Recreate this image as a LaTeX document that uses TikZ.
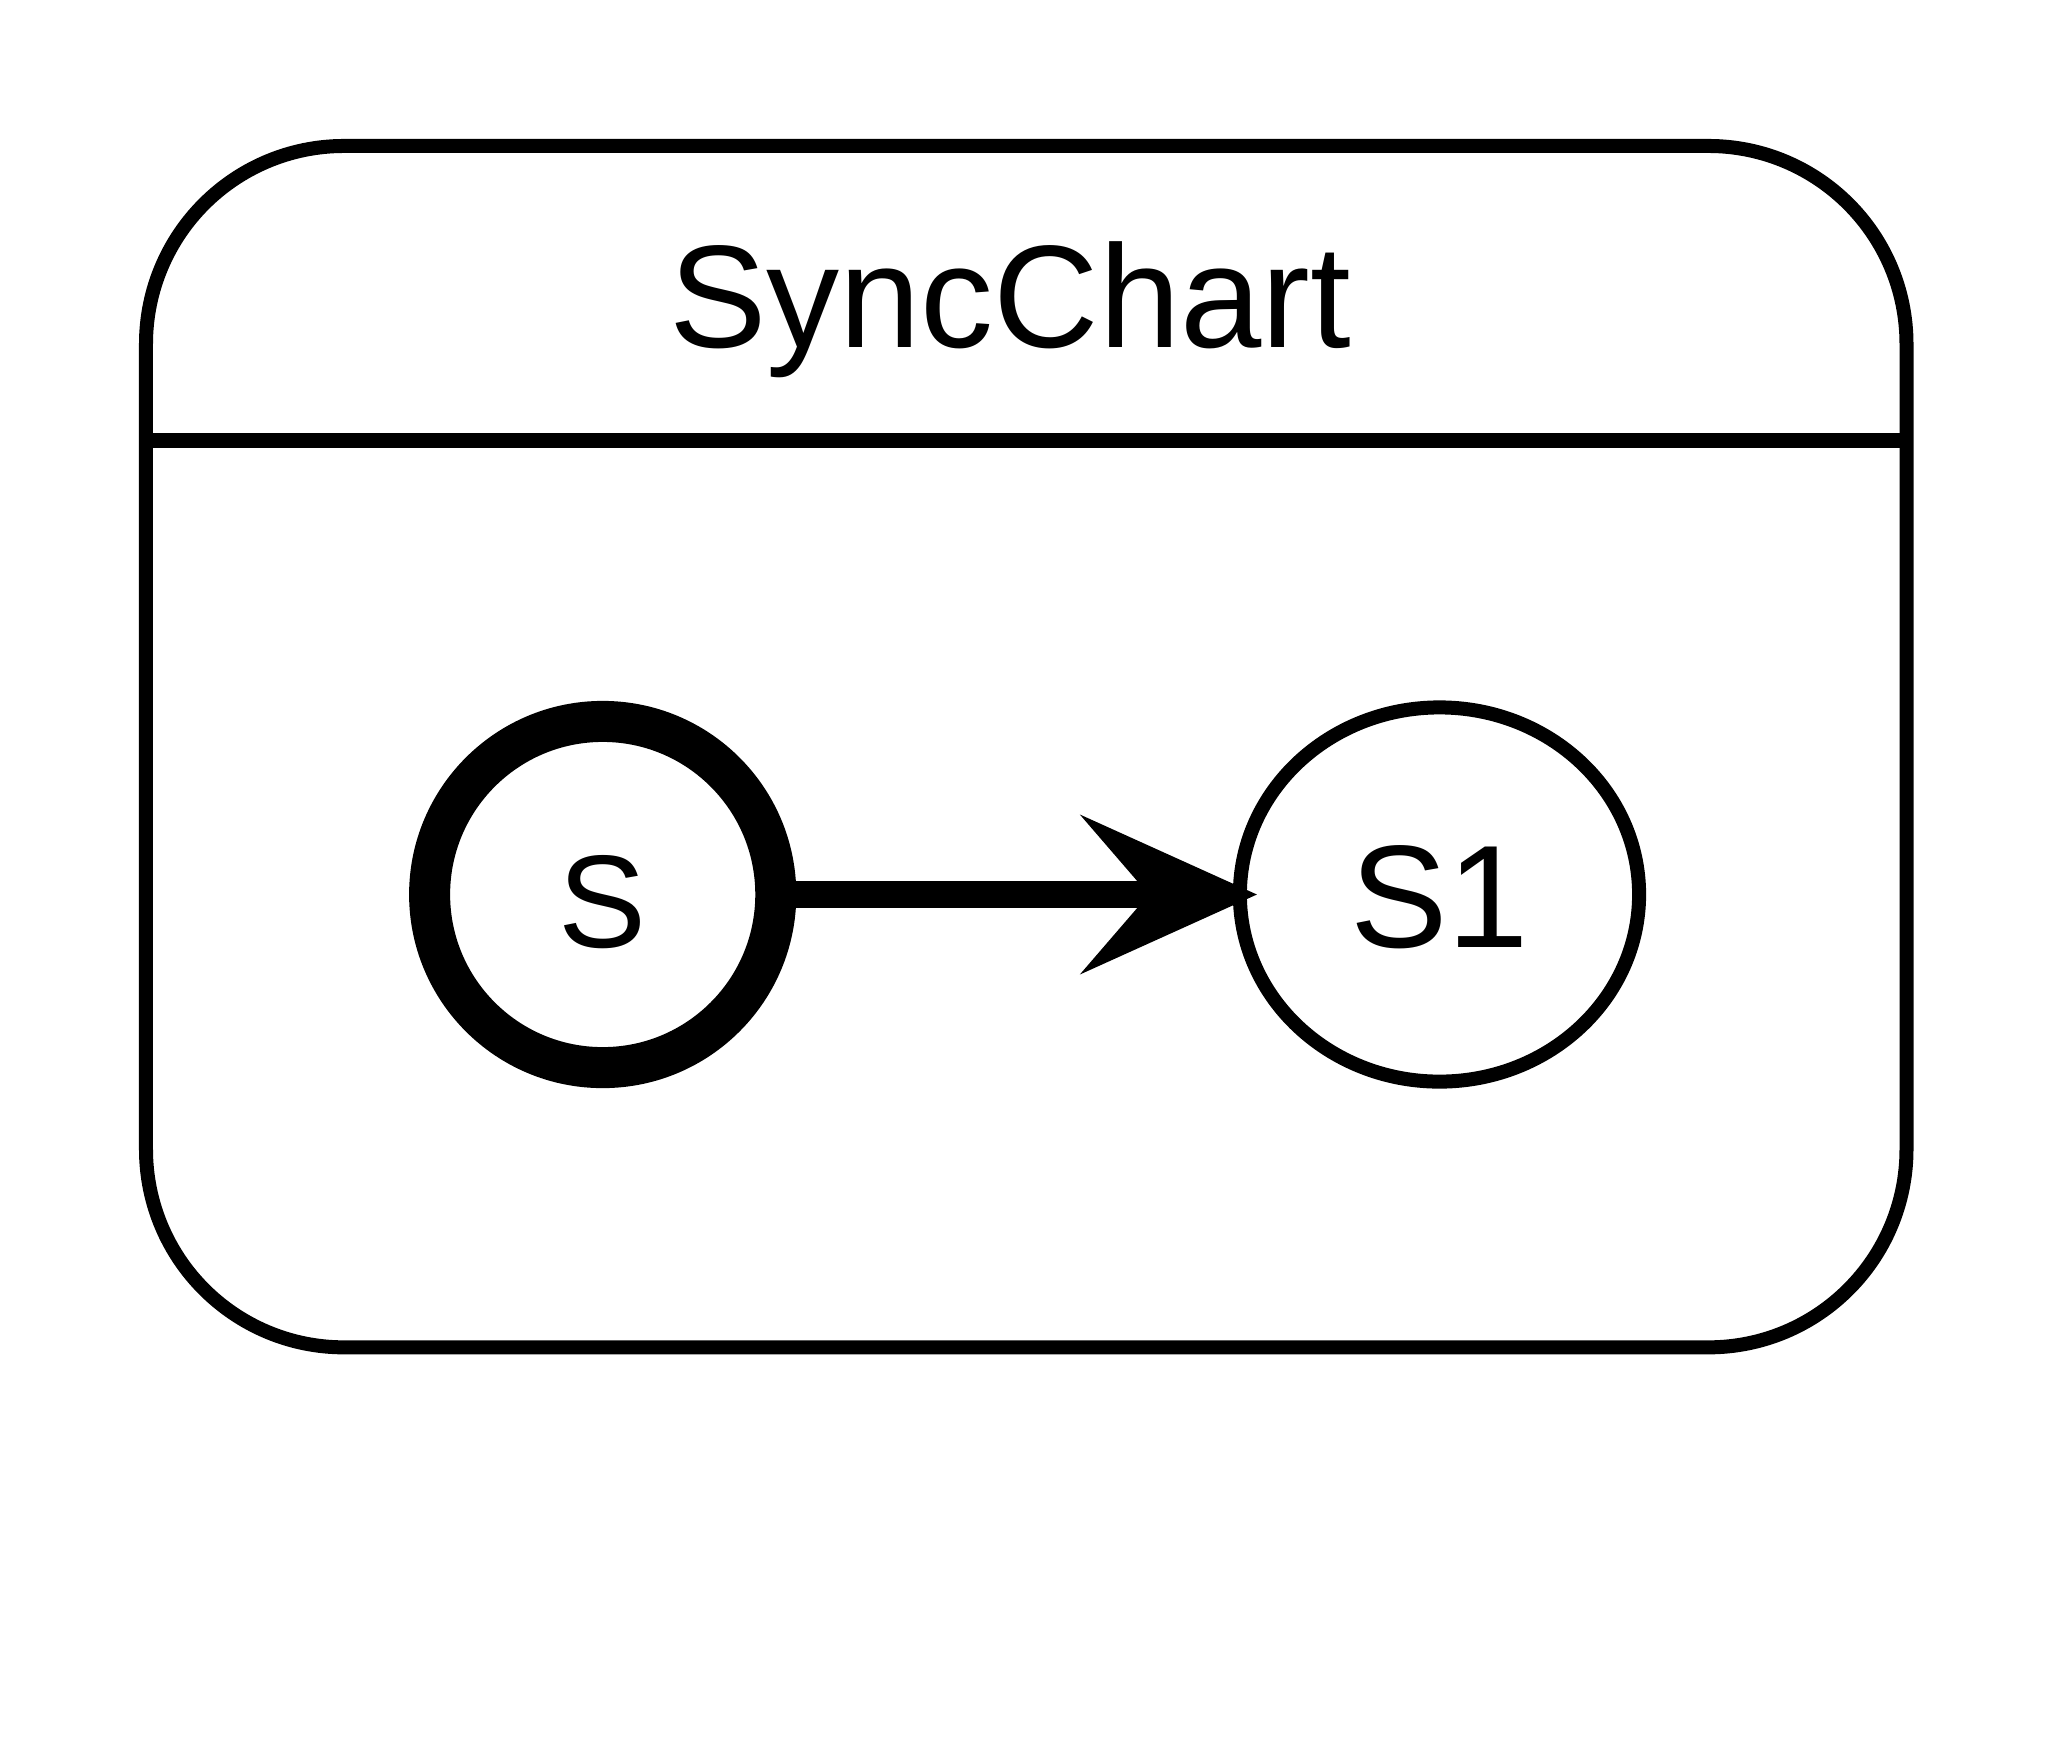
\documentclass[tikz,border=0pt]{standalone}
\usepackage{fontspec}
\setmainfont{Liberation Sans}
\usetikzlibrary{arrows.meta,shapes.geometric}
\begin{document}
\begin{tikzpicture}[x=0.01cm,y=-0.01cm,
  chartbox/.style={draw, line width=0.14cm, rounded corners=1.98cm, inner sep=0pt, outer sep=0pt},
  divider/.style={line width=0.15cm},
  initstate/.style={circle, draw, line width=0.41cm, inner sep=0pt, minimum size=3.46cm,
    text height=1.06cm, text depth=0cm, font=\fontsize{37.5pt}{40pt}\selectfont},
  plainstate/.style={ellipse, draw, line width=0.14cm, inner sep=0pt, minimum width=3.99cm,
    minimum height=3.74cm, text height=1.06cm, text depth=0cm, font=\fontsize{41.54pt}{45pt}\selectfont},
  trans/.style={line width=0.277cm, -{Stealth[length=1.77cm, width=1.6cm, inset=0.69cm, line width=0pt]},
    shorten >=-0.24cm},
  charttitle/.style={font=\fontsize{41.54pt}{45pt}\selectfont, inner sep=0pt, anchor=base}]
\fill[white] (0,0) rectangle (2053,1747);
\useasboundingbox (0,0) rectangle (2053,1747);
\node[chartbox, minimum width=17.595cm, minimum height=12.007cm] (chart) at (1026.25,746.65) {};
\node[charttitle] (title) at (1010,347.5) {SyncChart};
\coordinate (divL) at (146.5,440);
\coordinate (divR) at (1906,440);
\draw[divider] (divL) -- (divR);
\node[initstate] (S) at (602.7,894.5) {S};
\node[plainstate] (S1) at (1439.5,894.5) {S1};
\draw[trans] (S) -- (S1);
\end{tikzpicture}
\end{document}
